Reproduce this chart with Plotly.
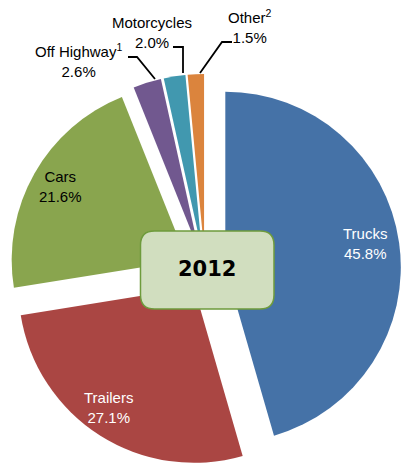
import plotly.graph_objects as go

# ---- data ----
categories = ["Trucks", "Trailers", "Cars", "Off Highway", "Motorcycles", "Other"]
label_names = ["Trucks", "Trailers", "Cars", "Off Highway<sup>1</sup>", "Motorcycles", "Other<sup>2</sup>"]
shares = [45.8, 27.1, 21.6, 2.6, 2.0, 1.5]
year_label = "2012"

colors = ["#4572A7", "#AA4643", "#89A54E", "#71588F", "#4198AF", "#DB843D"]
text_colors = ["white", "white", "black", "black", "black", "black"]

W, H = 401, 466


def pp(x, y):
    """screen pixel -> paper coordinates"""
    return x / W, 1 - y / H


# pie box: centre (205, 270), size 392 px
fig = go.Figure()
fig.add_trace(go.Pie(
    labels=categories,
    values=shares,
    sort=False,
    direction="clockwise",
    rotation=0,
    pull=[0.117] * len(shares),
    marker=dict(colors=colors, line=dict(width=0)),
    textinfo="none",
    hoverinfo="label+percent",
    domain=dict(x=[9 / W, 1], y=[0, 1 - 74 / H]),
    showlegend=False,
))

# label anchor positions (screen pixels)
label_pos = [(365, 243), (108, 407), (60, 186), (78, 61), (152, 33), (250, 27)]

annotations = []
for name, val, (lx, ly), tc in zip(label_names, shares, label_pos, text_colors):
    x, y = pp(lx, ly)
    annotations.append(dict(
        x=x, y=y, xref="paper", yref="paper", showarrow=False,
        xanchor="center", yanchor="middle",
        text=f"{name}<br>{val:.1f}%",
        font=dict(family="Liberation Sans, Arial, sans-serif", size=15, color=tc),
    ))

# center box text
cx, cy = pp(207, 269)
annotations.append(dict(
    x=cx, y=cy, xref="paper", yref="paper", showarrow=False,
    xanchor="center", yanchor="middle",
    text=f"<b>{year_label}</b>",
    font=dict(family="DejaVu Sans, Verdana, sans-serif", size=21, color="black"),
))

shapes = []
leaders = [
    [(128, 57), (137, 57), (155, 79)],
    [(173, 47), (183, 47), (183, 73)],
    [(232, 42), (222, 42), (200, 73)],
]


def P(x, y):
    a, b = pp(x, y)
    return f"{a:.5f},{b:.5f}"


for pts in leaders:
    path = "M " + " L ".join(P(x, y) for x, y in pts)
    shapes.append(dict(type="path", xref="paper", yref="paper", path=path,
                       line=dict(color="black", width=1.8)))

x0, x1, y0, y1, rr = 140.5, 274, 231, 309, 14
box = (f"M {P(x0 + rr, y0)} L {P(x1 - rr, y0)} Q {P(x1, y0)} {P(x1, y0 + rr)} "
       f"L {P(x1, y1 - rr)} Q {P(x1, y1)} {P(x1 - rr, y1)} "
       f"L {P(x0 + rr, y1)} Q {P(x0, y1)} {P(x0, y1 - rr)} "
       f"L {P(x0, y0 + rr)} Q {P(x0, y0)} {P(x0 + rr, y0)} Z")
shapes.append(dict(type="path", xref="paper", yref="paper", path=box,
                   fillcolor="#D1DEBF", line=dict(color="#6E9B3C", width=1.5),
                   layer="above"))

fig.update_layout(
    width=W, height=H,
    margin=dict(l=0, r=0, t=0, b=0),
    paper_bgcolor="white",
    plot_bgcolor="white",
    shapes=shapes,
    annotations=annotations,
)

fig.write_html(
    "out.html",
    config={"displayModeBar": False},
    post_script="document.body.style.margin='0';"
                "document.documentElement.style.overflow='hidden';",
)
